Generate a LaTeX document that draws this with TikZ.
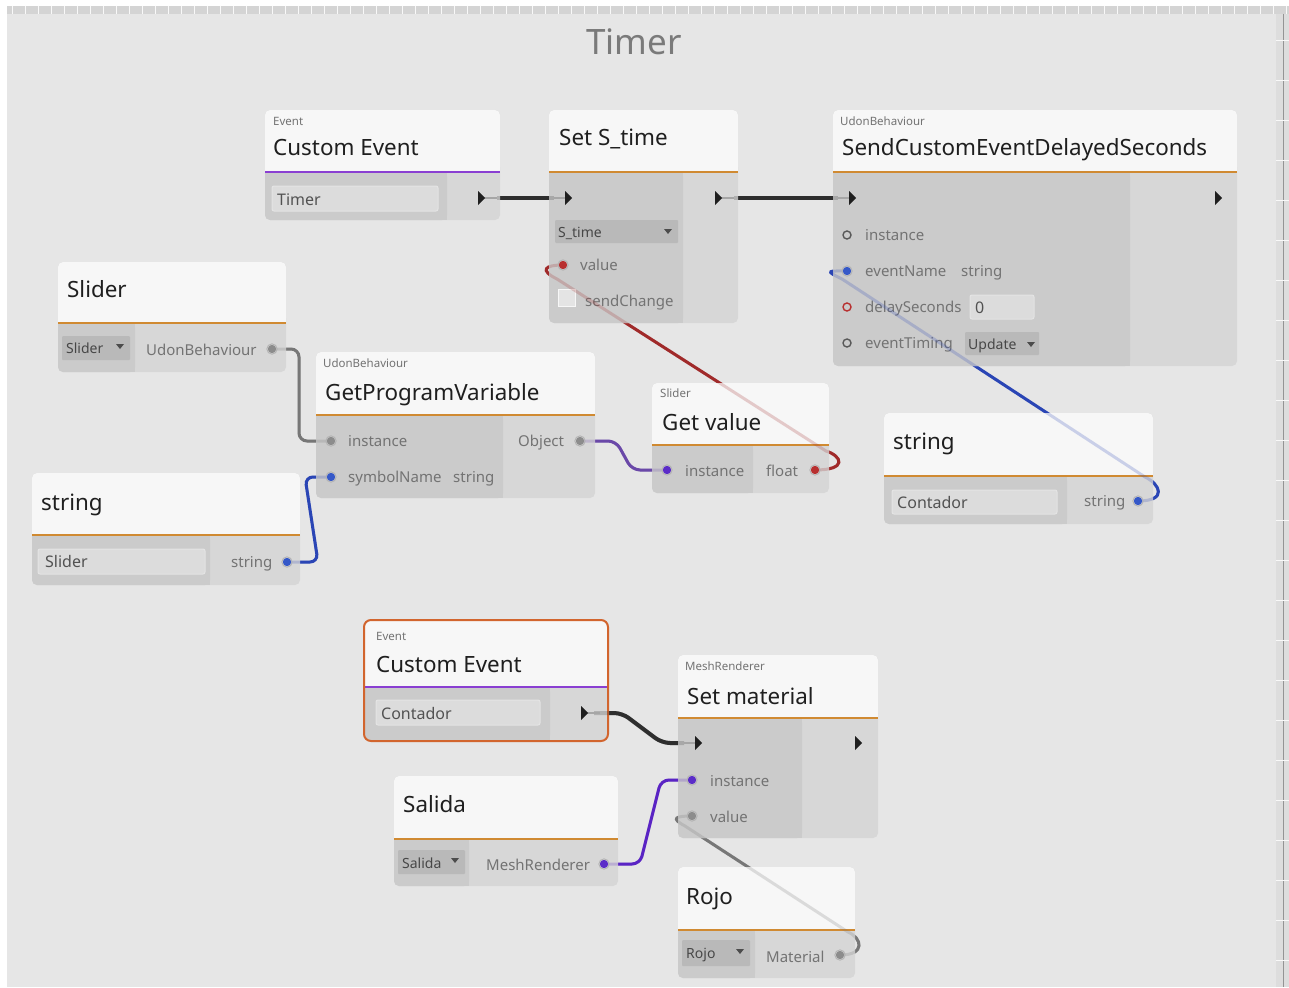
\documentclass[tikz,border=0pt]{standalone}
\usepackage{fontspec}
\setmainfont{Noto Sans}
\usetikzlibrary{fit}
\definecolor{canvas}{HTML}{E6E6E6}
\definecolor{stripc}{HTML}{D4D4D4}
\definecolor{bodyLc}{HTML}{CBCBCB}
\definecolor{bodyRc}{HTML}{D7D7D7}
\definecolor{headc}{HTML}{F7F7F7}
\definecolor{orangeline}{HTML}{D08A32}
\definecolor{purpleline}{HTML}{8A3FD2}
\definecolor{selorange}{HTML}{D2652E}
\definecolor{fieldc}{HTML}{DCDCDC}
\definecolor{fieldb}{HTML}{E4E4E4}
\definecolor{dropc}{HTML}{B9B9B9}
\definecolor{redE}{HTML}{A02A2A}
\definecolor{blueE}{HTML}{2A45B5}
\definecolor{purpE}{HTML}{6A48A8}
\definecolor{purp2E}{HTML}{5A24C4}
\definecolor{grayE}{HTML}{777777}
\definecolor{execE}{HTML}{2E2E2E}
\definecolor{portblue}{HTML}{3558C8}
\definecolor{portpurp}{HTML}{5B2CC8}
\definecolor{portred}{HTML}{B83030}

\tikzset{
  ttl/.style={anchor=base west, inner sep=0pt, font=\fontsize{22.4}{26}\selectfont, text=black!88},
  cat/.style={anchor=base west, inner sep=0pt, font=\fontsize{11.5}{13}\selectfont, text=black!55},
  plabel/.style={anchor=base west, inner sep=0pt, font=\fontsize{15}{18}\selectfont, text=black!55},
  ftext/.style={anchor=base west, inner sep=0pt, font=\fontsize{16}{19}\selectfont, text=black!68},
  dtext/.style={anchor=base west, inner sep=0pt, font=\fontsize{14}{17}\selectfont, text=black!72},
  exedge/.style={execE, line width=4pt},
  dedge/.style={line width=3pt, rounded corners=8pt},
  stub/.style={black!35, line width=2pt},
}

% name, x1, y1, x2, yheader, y2, xsplit, line colour
\newcommand\unode[8]{%
  \fill[bodyRc,rounded corners=5pt] (#2,#3) rectangle (#4,#6);
  \fill[bodyLc,rounded corners=5pt] (#2,#5) rectangle (#7,#6);
  \fill[bodyLc] ({#7-6},#5) rectangle (#7,#6);
  \fill[bodyLc] (#2,#5) rectangle (#7,{#5+6});
  \fill[headc,rounded corners=5pt] (#2,#3) rectangle (#4,#5);
  \fill[headc] (#2,{#5-6}) rectangle (#4,#5);
  \draw[#8,line width=2pt] (#2,#5) -- (#4,#5);
  \node[fit={(#2,#3) (#4,#6)},inner sep=0pt] (#1) {};
}
\newcommand\field[4]{\fill[fieldc,rounded corners=2pt,draw=fieldb,line width=1pt] (#1,#2) rectangle (#3,#4);}
\newcommand\dropbox[4]{\fill[dropc,rounded corners=1pt] (#1,#2) rectangle (#3,#4);}
\newcommand\tri[2]{\fill[black!70] ({#1-4},{#2-2}) -- ({#1+4},{#2-2}) -- (#1,{#2+3}) -- cycle;}
\newcommand\exin[1]{\draw[stub] ([xshift=-14pt]#1) -- (#1); \fill[black!88,shift={(#1)}] (-3,-7) -- (4,0) -- (-3,7) -- cycle;}
\newcommand\exout[1]{\draw[stub] (#1) -- ([xshift=16pt]#1); \fill[black!88,shift={(#1)}] (-3,-7) -- (4,0) -- (-3,7) -- cycle;}
\newcommand\exfree[1]{\fill[black!88,shift={(#1)}] (-3,-7) -- (4,0) -- (-3,7) -- cycle;}
\newcommand\pfull[2]{\fill[#2] (#1) circle (4.2pt); \draw[black!30,line width=0.8pt] (#1) circle (5.2pt);}
\newcommand\phollow[2]{\draw[#2,line width=1.4pt] (#1) circle (4pt);}

\newcommand\drawedges[1]{%
  \draw[exedge,#1] ([xshift=16pt]ce1-out) -- ([xshift=-14pt]sst-in);
  \draw[exedge,#1] ([xshift=16pt]sst-out) -- ([xshift=-14pt]sc-in);
  \draw[exedge,#1,rounded corners=8pt] ([xshift=10pt]ce2-out) -- (622,713) -- (662,743) -- ([xshift=-14pt]sm-in);
  \draw[redE,line width=3pt,#1] (gv-out) .. controls (848,470) and (842,456) .. (826,451) -- (557,279) .. controls (539,270) and (545,265) .. (sst-val);
  \draw[blueE,line width=3pt,#1] (s2-out) .. controls (1168,501) and (1160,484) .. (1145,477) -- (842,279) .. controls (823,270) and (830,271) .. (sc-name);
  \draw[grayE,line width=3pt,#1] (ro-out) .. controls (866,955) and (862,938) .. (848,932) -- (685,826) .. controls (670,818) and (676,816) .. (sm-val);
  \draw[grayE,dedge,#1] (sl-out) -- (299,349) -- (299,441) -- (gp-inst);
  \draw[blueE,dedge,#1] (s1-out) -- (318,562) -- (305,477) -- (gp-sym);
  \draw[purpE,dedge,#1] (gp-obj) -- (616,441) -- (632,470) -- (gv-inst);
  \draw[purp2E,dedge,#1] (sa-out) -- (640,864) -- (661,780) -- (sm-inst);
}

\begin{document}
\begin{tikzpicture}[x=1pt,y=-1pt]
\useasboundingbox (0,0) rectangle (1289,987);
% background
\fill[white] (0,0) rectangle (1289,987);
\fill[canvas] (7,14) rectangle (1276,987);
\fill[stripc] (7,6) rectangle (1289,14);
\foreach \i in {0,...,98} \draw[white!85!stripc,line width=0.8pt] ({12+13*\i},6) -- ++(0,8);
\fill[stripc!80!white] (1276,14) rectangle (1289,987);
\draw[stripc!70!black,line width=0.6pt] (1283,14) -- (1283,987);
\foreach \i in {0,...,24} \draw[white!85!stripc,line width=0.8pt] (1276,{40+40*\i}) -- ++(13,0);
\node[font=\fontsize{35}{40}\selectfont, text=black!52, anchor=base, inner sep=0pt] (title) at (634,55) {Timer};

% port coordinates
\coordinate (ce1-out) at (481,198);
\coordinate (sst-in) at (568,198);
\coordinate (sst-out) at (718,198);
\coordinate (sst-val) at (563,265);
\coordinate (sc-in) at (852,198);
\coordinate (sc-out) at (1218,198);
\coordinate (sc-inst) at (847,235);
\coordinate (sc-name) at (847,271);
\coordinate (sc-delay) at (847,307);
\coordinate (sc-timing) at (847,343);
\coordinate (sl-out) at (272,349);
\coordinate (gp-inst) at (331,441);
\coordinate (gp-sym) at (331,477);
\coordinate (gp-obj) at (580,441);
\coordinate (s1-out) at (287,562);
\coordinate (gv-inst) at (667,470);
\coordinate (gv-out) at (815,470);
\coordinate (s2-out) at (1138,501);
\coordinate (ce2-out) at (584,713);
\coordinate (sm-in) at (698,743);
\coordinate (sm-out) at (858,743);
\coordinate (sm-inst) at (692,780);
\coordinate (sm-val) at (692,816);
\coordinate (sa-out) at (604,864);
\coordinate (ro-out) at (840,955);

\drawedges{}

% ---------- nodes ----------
% Custom Event (Timer)
\unode{ce1}{265}{110}{500}{172}{220}{447}{purpleline}
\node[cat] (ce1c) at (273,126) {Event};
\node[ttl] (ce1t) at (273,156) {Custom Event};
\field{272}{186}{438}{211}
\node[ftext] (ce1f) at (277,205) {Timer};

% Set S_time
\unode{sst}{549}{110}{738}{172}{323}{683}{orangeline}
\node[ttl] (sstt) at (559,146) {Set S\_time};
\dropbox{555}{220}{678}{243}
\node[dtext] (sstd) at (558,237) {S\_time};
\tri{668}{231}
\node[plabel] (sstv) at (580,270) {value};
\fill[fieldb,draw=white!70!fieldb] (558,289) rectangle (575,306);
\node[plabel] (ssts) at (585,306) {sendChange};

% SendCustomEventDelayedSeconds
\unode{sc}{833}{110}{1237}{172}{366}{1130}{orangeline}
\node[cat] (scc) at (840,126) {UdonBehaviour};
\node[ttl] (sct) at (842,156) {SendCustomEventDelayedSeconds};
\node[plabel] (sc1) at (865,240) {instance};
\node[plabel] (sc2) at (865,276) {eventName};
\node[plabel] (sc2b) at (961,276) {string};
\node[plabel] (sc3) at (865,312) {delaySeconds};
\field{970}{295}{1034}{319}
\node[ftext] (sc3f) at (975,313) {0};
\node[plabel] (sc4) at (865,348) {eventTiming};
\dropbox{965}{332}{1039}{355}
\node[dtext,font=\fontsize{14}{17}\selectfont\bfseries] (sc4d) at (968,349) {Update};
\tri{1031}{344}

% Slider
\unode{sl}{58}{262}{286}{323}{372}{135}{orangeline}
\node[ttl] (slt) at (67,297) {Slider};
\dropbox{62}{336}{130}{360}
\node[dtext] (sld) at (66,353) {Slider};
\tri{120}{346}
\node[plabel] (sll) at (146,355) {UdonBehaviour};

% GetProgramVariable
\unode{gp}{316}{352}{595}{415}{498}{503}{orangeline}
\node[cat] (gpc) at (323,367) {UdonBehaviour};
\node[ttl] (gpt) at (325,400) {GetProgramVariable};
\node[plabel] (gp1) at (348,446) {instance};
\node[plabel] (gp2) at (348,482) {symbolName};
\node[plabel] (gp2b) at (453,482) {string};
\node[plabel] (gp3) at (518,446) {Object};

% string (Slider)
\unode{s1}{32}{473}{300}{535}{585}{210}{orangeline}
\node[ttl] (s1t) at (41,510) {string};
\field{38}{549}{205}{574}
\node[ftext] (s1f) at (45,567) {Slider};
\node[plabel] (s1l) at (231,567) {string};

% Get value
\unode{gv}{652}{383}{829}{445}{493}{753}{orangeline}
\node[cat] (gvc) at (660,397) {Slider};
\node[ttl] (gvt) at (662,430) {Get value};
\node[plabel] (gv1) at (685,476) {instance};
\node[plabel] (gv2) at (766,476) {float};

% string (Contador)
\unode{s2}{884}{413}{1153}{476}{524}{1067}{orangeline}
\node[ttl] (s2t) at (893,449) {string};
\field{892}{490}{1057}{514}
\node[ftext] (s2f) at (897,508) {Contador};
\node[plabel] (s2l) at (1084,506) {string};

% Custom Event (Contador) - selected
\unode{ce2}{365}{621}{607}{687}{740}{550}{purpleline}
\draw[selorange,line width=2pt,rounded corners=7pt] (364,620) rectangle (608,741);
\node[cat] (ce2c) at (376,640) {Event};
\node[ttl] (ce2t) at (376,672) {Custom Event};
\field{376}{700}{540}{725}
\node[ftext] (ce2f) at (381,719) {Contador};

% Set material
\unode{sm}{678}{655}{878}{718}{838}{802}{orangeline}
\node[cat] (smc) at (685,670) {MeshRenderer};
\node[ttl] (smt) at (687,704) {Set material};
\node[plabel] (sm1) at (710,786) {instance};
\node[plabel] (sm2) at (710,822) {value};

% Salida
\unode{sa}{394}{776}{618}{839}{886}{469}{orangeline}
\node[ttl] (sat) at (403,812) {Salida};
\dropbox{398}{850}{465}{874}
\node[dtext] (sad) at (402,868) {Salida};
\tri{455}{860}
\node[plabel] (sal) at (486,870) {MeshRenderer};

% Rojo
\unode{ro}{678}{867}{855}{930}{978}{755}{orangeline}
\node[ttl] (rot) at (686,904) {Rojo};
\dropbox{682}{940}{750}{966}
\node[dtext] (rod) at (686,958) {Rojo};
\tri{740}{951}
\node[plabel] (rol) at (766,962) {Material};

% faint edges over nodes
\drawedges{opacity=0.22}

% ---------- ports ----------
\exout{ce1-out}
\exin{sst-in}
\exout{sst-out}
\exin{sc-in}
\exfree{sc-out}
\exout{ce2-out}
\exin{sm-in}
\exfree{sm-out}
\pfull{sst-val}{portred}
\phollow{sc-inst}{black!65}
\pfull{sc-name}{portblue}
\phollow{sc-delay}{portred}
\phollow{sc-timing}{black!65}
\pfull{sl-out}{black!45}
\pfull{gp-inst}{black!45}
\pfull{gp-sym}{portblue}
\pfull{gp-obj}{black!45}
\pfull{s1-out}{portblue}
\pfull{gv-inst}{portpurp}
\pfull{gv-out}{portred}
\pfull{s2-out}{portblue}
\pfull{sm-inst}{portpurp}
\pfull{sm-val}{black!45}
\pfull{sa-out}{portpurp}
\pfull{ro-out}{black!45}
\end{tikzpicture}
\end{document}
